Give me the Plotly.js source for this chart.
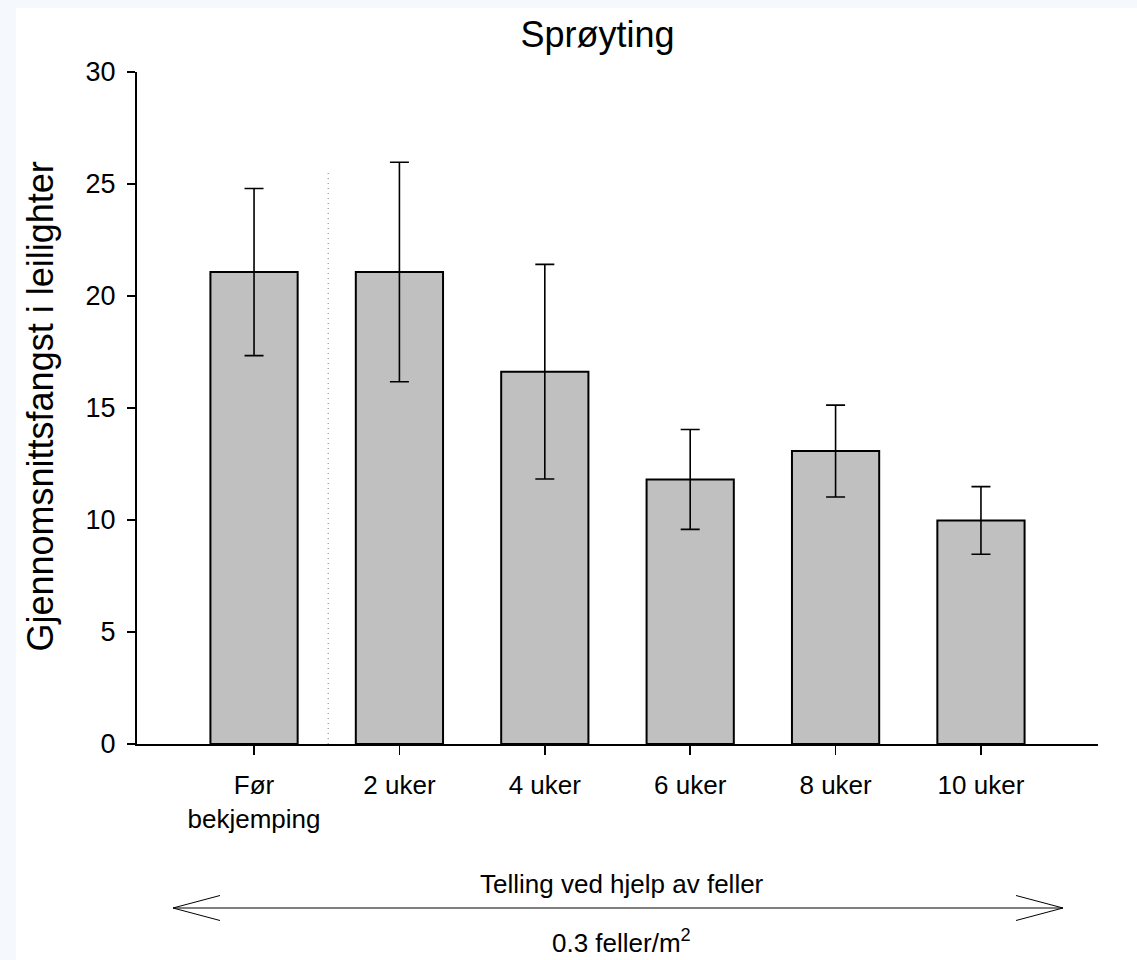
<!DOCTYPE html>
<html>
<head>
<meta charset="utf-8">
<script src="https://cdn.plot.ly/plotly-3.0.1.min.js"></script>
<style>
  html, body { margin: 0; padding: 0; background: #f5f9fd; width: 1137px; height: 960px; overflow: hidden; }
  #chart { position: absolute; left: 16px; top: 8px; width: 1121px; height: 952px; background: #ffffff; }
</style>
</head>
<body>
<div id="chart"></div>
<script>
// ---- data ----
const categories = ["Før<br>bekjemping", "2 uker", "4 uker", "6 uker", "8 uker", "10 uker"];
const meanCatch = [21.07, 21.07, 16.62, 11.81, 13.08, 9.98];
const errorCatch = [3.73, 4.90, 4.79, 2.23, 2.05, 1.51];
const yTickValues = [0, 5, 10, 15, 20, 25, 30];
const chartTitle = "Sprøyting";
const yTitle = "Gjennomsnittsfangst i leilighter";
const arrowLabelTop = "Telling ved hjelp av feller";
const arrowLabelBottom = "0.3 feller/m<sup>2</sup>";

// ---- layout geometry (page pixels -> paper coords) ----
const W = 1121, H = 952;
const M = {l: 121, r: 39, t: 64, b: 216};
const OX = 16, OY = 8;               // div offset within page
const plotW = W - M.l - M.r, plotH = H - M.t - M.b;
const xp = px => (px - OX - M.l) / plotW;
const yp = py => (OY + M.t + plotH - py) / plotH;

const FONT = "Liberation Sans, Arial, Helvetica, sans-serif";

const trace = {
  type: "bar",
  x: categories,
  y: meanCatch,
  width: 0.6,
  marker: {color: "#c0c0c0", line: {color: "#000000", width: 2}},
  error_y: {type: "data", array: errorCatch, visible: true, color: "#000000", thickness: 1.6, width: 9.5},
  hoverinfo: "skip"
};

function seg(x0, y0, x1, y1) {
  return {type: "line", xref: "paper", yref: "paper",
          x0: xp(x0), y0: yp(y0), x1: xp(x1), y1: yp(y1),
          line: {color: "#000000", width: 1}};
}

const ay = 908;
const shapes = [
  // dotted separator
  {type: "line", xref: "x", yref: "y", x0: 0.51, x1: 0.51, y0: 0, y1: 25.6,
   line: {color: "#7f7f7f", width: 1, dash: "1px,4px"}},
  // double arrow
  seg(173, ay, 1063, ay),
  seg(173, ay, 220, ay - 12.5), seg(173, ay, 220, ay + 12.5),
  seg(1063, ay, 1016, ay - 12.5), seg(1063, ay, 1016, ay + 12.5)
];

const annotations = [
  {text: yTitle, textangle: -90, xref: "paper", yref: "paper",
   x: xp(39.5), y: yp(407), xanchor: "center", yanchor: "middle",
   showarrow: false, font: {family: FONT, size: 36, color: "#000"}},
  {text: arrowLabelTop, xref: "paper", yref: "paper",
   x: xp(622), y: yp(893 - 9), xanchor: "center", yanchor: "middle",
   showarrow: false, font: {family: FONT, size: 26, color: "#000"}},
  {text: arrowLabelBottom, xref: "paper", yref: "paper",
   x: xp(621), y: yp(952 - 11), xanchor: "center", yanchor: "middle",
   showarrow: false, font: {family: FONT, size: 26, color: "#000"}}
];

const layout = {
  width: W, height: H,
  margin: M,
  paper_bgcolor: "#ffffff",
  plot_bgcolor: "#ffffff",
  showlegend: false,
  font: {family: FONT, size: 26, color: "#000"},
  title: {text: chartTitle, font: {family: FONT, size: 36, color: "#000"},
          xref: "paper", x: xp(597.5), xanchor: "center",
          yref: "container", y: 1 - (34.2 - OY) / H, yanchor: "middle"},
  xaxis: {
    type: "category",
    range: [-0.805, 5.805],
    showline: true, linecolor: "#000", linewidth: 2,
    ticks: "outside", ticklen: 9, tickwidth: 1.5, tickcolor: "#000",
    ticklabelstandoff: 8,
    showgrid: false, zeroline: false,
    tickfont: {family: FONT, size: 26, color: "#000"},
    fixedrange: true
  },
  yaxis: {
    range: [0, 30],
    tickvals: yTickValues,
    showline: true, linecolor: "#000", linewidth: 2,
    ticks: "outside", ticklen: 8, tickwidth: 1.5, tickcolor: "#000",
    ticklabelstandoff: 6,
    showgrid: false, zeroline: false,
    tickfont: {family: FONT, size: 27, color: "#000"},
    fixedrange: true
  },
  shapes: shapes,
  annotations: annotations
};

Plotly.newPlot("chart", [trace], layout, {displayModeBar: false, staticPlot: true});
</script>
</body>
</html>
